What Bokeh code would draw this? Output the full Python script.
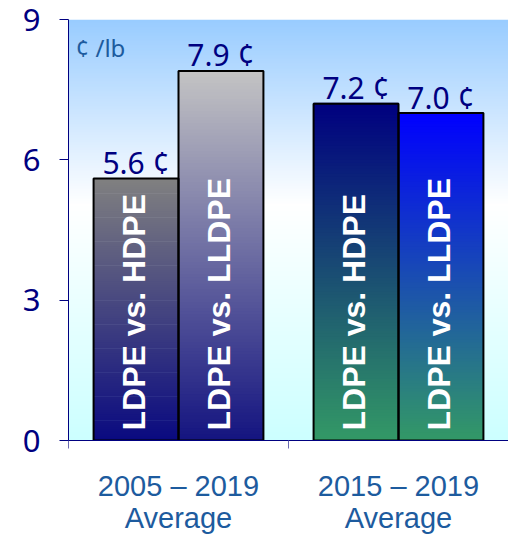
import numpy as np
from bokeh.plotting import figure
from bokeh.models import ColumnDataSource, Range1d, FixedTicker
from bokeh.embed import file_html
from bokeh.resources import INLINE
from bokeh.core.properties import value

# ---------------- data ----------------
groups = ["2005 – 2019\nAverage", "2015 – 2019\nAverage"]
series = ["LDPE vs. HDPE", "LDPE vs. LLDPE"]
hdpe = [5.6, 7.2]
lldpe = [7.9, 7.0]
y_ticks = [0, 3, 6, 9]
unit_label = "¢ /lb"

# ---------------- style ----------------
top_colors = [["#808080", "#C4C4C4"], ["#000080", "#0000FF"]]     # [group][series]
bottom_colors = [["#0A0A80", "#141480"], ["#339966", "#339966"]]
bar_w = 0.386
offsets = [-bar_w / 2, bar_w / 2]
NAVY = "#000080"
STEEL = "#1D5B9E"
N = 120

def hex2rgb(h):
    h = h.lstrip("#")
    return np.array([int(h[i:i + 2], 16) for i in (0, 2, 4)], dtype=float)

def rgb2hex(c):
    return "#%02x%02x%02x" % tuple(int(round(v)) for v in c)

x_lo, x_hi = 0, len(groups)
y_lo, y_hi = y_ticks[0], y_ticks[-1]

p = figure(width=508, height=536, output_backend="svg", toolbar_location=None,
           x_range=Range1d(x_lo, x_hi), y_range=Range1d(y_lo, y_hi),
           min_border_left=68, min_border_right=0, min_border_top=19,
           min_border_bottom=96)
p.background_fill_color = "white"
p.border_fill_color = "white"
p.outline_line_color = None
p.xgrid.visible = False
p.ygrid.visible = False

# background gradient (frame)
H = 256
img = np.empty((H, 2), dtype=np.uint32)
view = img.view(dtype=np.uint8).reshape((H, 2, 4))
c_bot = hex2rgb("#CCFFFF")
c_mid = hex2rgb("#FFFFFF")
c_top = hex2rgb("#99CCFF")
mid = 0.56
for r in range(H):
    t = r / (H - 1)
    if t < mid:
        c = c_bot + (c_mid - c_bot) * (t / mid)
    else:
        c = c_mid + (c_top - c_mid) * ((t - mid) / (1 - mid))
    view[r, :, 0] = int(round(c[0]))
    view[r, :, 1] = int(round(c[1]))
    view[r, :, 2] = int(round(c[2]))
    view[r, :, 3] = 255
p.image_rgba(image=[img], x=x_lo, y=y_lo, dw=x_hi - x_lo, dh=y_hi - y_lo)

# gradient bars
values = [hdpe, lldpe]
L, R, B, T, C = [], [], [], [], []
OL, OR, OT, CX, VAL, TXT, LBL = [], [], [], [], [], [], []
for gi in range(len(groups)):
    for si in range(len(series)):
        v = values[si][gi]
        cx = gi + 0.5 + offsets[si]
        ct = hex2rgb(top_colors[gi][si])
        cb = hex2rgb(bottom_colors[gi][si])
        for k in range(N):
            b = v * k / N
            t = v * (k + 1) / N
            f = (k + 0.5) / N
            L.append(cx - bar_w / 2)
            R.append(cx + bar_w / 2)
            B.append(b)
            T.append(t + v / N * 0.3)
            C.append(rgb2hex(cb + (ct - cb) * f))
        OL.append(cx - bar_w / 2)
        OR.append(cx + bar_w / 2)
        OT.append(v)
        CX.append(cx)
        VAL.append(v)
        TXT.append(f"{v:.1f} ¢")
        LBL.append(series[si])

slices = ColumnDataSource(dict(left=L, right=R, bottom=B, top=T, color=C))
p.quad(left="left", right="right", bottom="bottom", top="top", fill_color="color",
       line_color=None, source=slices)

bars = ColumnDataSource(dict(left=OL, right=OR, top=OT, x=CX, y=VAL, txt=TXT, lbl=LBL,
                             zero=[0] * len(CX)))
p.quad(left="left", right="right", bottom="zero", top="top", fill_alpha=0,
       line_color="black", line_width=2, source=bars)

# value labels
p.text(x="x", y="y", text="txt", source=bars, text_align="center",
       text_baseline="alphabetic", y_offset=-16, text_color=NAVY,
       text_font=value("Noto Sans"), text_font_size="30px")

# inside labels
p.text(x="x", y="zero", text="lbl", source=bars, angle=np.pi / 2,
       text_align="left", text_baseline="middle", y_offset=-10, x_offset=-2,
       text_color="white", text_font=value("Liberation Sans"),
       text_font_style="bold", text_font_size="32px")

# unit label
unit_src = ColumnDataSource(dict(x=[x_lo], y=[y_hi], t=[unit_label]))
p.text(x="x", y="y", text="t", source=unit_src, text_align="left",
       text_baseline="alphabetic", x_offset=7, y_offset=28, text_color=STEEL,
       text_font=value("Noto Sans"), text_font_size="24px")

# axes
p.yaxis.ticker = FixedTicker(ticks=y_ticks, minor_ticks=[])
p.yaxis.axis_line_color = NAVY
p.yaxis.major_tick_line_color = NAVY
p.yaxis.major_tick_out = 9
p.yaxis.major_tick_in = 0
p.yaxis.minor_tick_line_color = None
p.yaxis.major_label_text_color = NAVY
p.yaxis.major_label_text_font = "Noto Sans"
p.yaxis.major_label_text_font_size = "31px"
p.yaxis.major_label_standoff = 19

p.xaxis.ticker = FixedTicker(ticks=[i + 0.5 for i in range(len(groups))],
                             minor_ticks=list(range(len(groups) + 1)))
p.xaxis.major_label_overrides = {i + 0.5: g for i, g in enumerate(groups)}
p.xaxis.axis_line_color = NAVY
p.xaxis.major_tick_line_color = None
p.xaxis.major_tick_out = 0
p.xaxis.major_tick_in = 0
p.xaxis.minor_tick_line_color = "#6A6AB0"
p.xaxis.minor_tick_out = 8
p.xaxis.minor_tick_in = 0
p.xaxis.major_label_text_color = STEEL
p.xaxis.major_label_text_font = "Liberation Sans"
p.xaxis.major_label_text_font_size = "29px"
p.xaxis.major_label_text_line_height = 1.0
p.xaxis.major_label_standoff = 21

open("out.html", "w").write(file_html(p, INLINE))
